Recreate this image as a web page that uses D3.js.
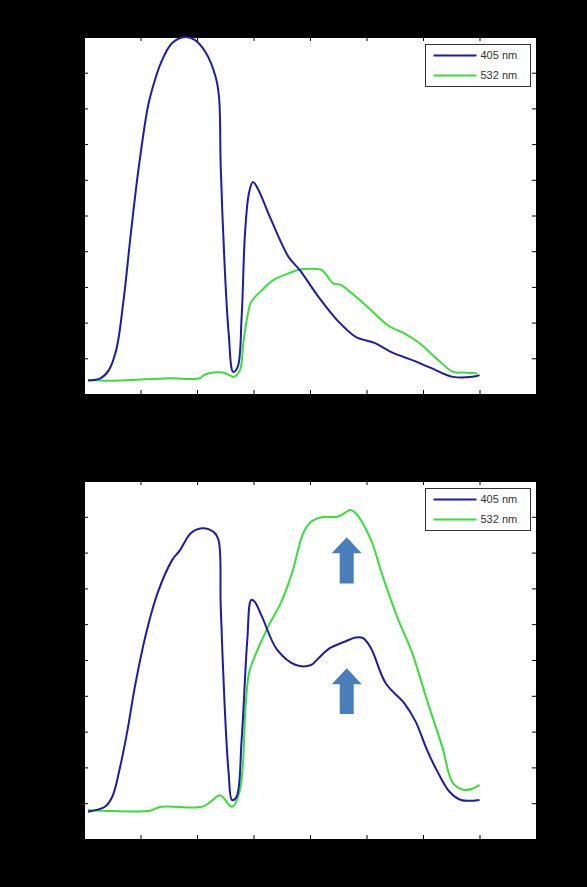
<!DOCTYPE html>
<html>
<head>
<meta charset="utf-8">
<script src="https://cdn.jsdelivr.net/npm/d3@7"></script>
<style>
	body { margin: 0; background: #000; }
	svg { display: block; }
	.tick line { stroke: #000; }
	.domain { stroke: #000; }
</style>
</head>
<body>
<div id="chart"></div>
<script>

// series values, [x, y]
var blueTop = [
	[0.07,0.38],[0.29,0.44],[0.44,0.67],[0.57,1.23],[0.70,2.63],[0.83,4.51],[0.97,6.36],
	[1.13,8.04],[1.23,8.66],[1.36,9.27],[1.56,9.83],[1.79,10.0],[1.96,9.92],[2.16,9.55],
	[2.33,8.88],[2.39,8.32],[2.42,6.36],[2.49,3.56],[2.56,1.71],[2.64,0.62],[2.72,0.76],
	[2.79,2.16],[2.85,4.51],[2.92,5.63],[2.99,5.94],[3.09,5.71],[3.29,4.96],[3.62,3.84],
	[3.82,3.47],[4.15,2.72],[4.48,2.07],[4.81,1.60],[5.14,1.43],[5.47,1.15],[5.81,0.95],
	[6.14,0.73],[6.53,0.48],[6.87,0.48],[7.0,0.53]
];

var greenTop = [
	[0.07,0.39],[0.44,0.37],[0.83,0.39],[1.5,0.44],[2.05,0.44],[2.12,0.53],[2.29,0.60],
	[2.46,0.60],[2.57,0.53],[2.65,0.48],[2.76,0.67],[2.82,1.43],[2.89,2.16],[2.96,2.58],
	[3.15,2.91],[3.35,3.19],[3.62,3.38],[3.82,3.49],[4.02,3.51],[4.21,3.47],[4.41,3.10],
	[4.55,3.05],[4.74,2.82],[5.01,2.45],[5.41,1.89],[5.67,1.70],[5.94,1.42],[6.27,0.95],
	[6.53,0.62],[6.73,0.60],[6.96,0.58]
];

var blueBottom = [
	[0.07,0.76],[0.37,0.90],[0.50,1.18],[0.64,2.02],[0.77,3.04],[0.90,4.25],[1.10,5.75],
	[1.30,6.86],[1.56,7.79],[1.70,8.07],[1.89,8.54],[2.09,8.68],[2.29,8.58],[2.38,8.35],
	[2.42,6.49],[2.49,3.70],[2.56,1.84],[2.62,1.09],[2.70,1.18],[2.79,2.77],[2.89,5.56],
	[2.96,6.68],[3.02,6.63],[3.15,6.21],[3.42,5.28],[3.75,4.86],[4.02,4.86],[4.15,5.05],
	[4.35,5.33],[4.61,5.51],[4.81,5.63],[4.94,5.61],[5.08,5.33],[5.34,4.35],[5.67,3.79],
	[5.87,3.28],[6.07,2.49],[6.27,1.84],[6.47,1.32],[6.67,1.09],[7.0,1.09]
];

var greenBottom = [
	[0.07,0.81],[0.34,0.79],[1.17,0.79],[1.36,0.90],[2.09,0.90],[2.25,1.05],[2.41,1.22],
	[2.62,0.90],[2.76,1.37],[2.86,3.70],[2.92,4.63],[3.02,5.09],[3.15,5.56],[3.29,6.03],
	[3.48,6.58],[3.68,7.42],[3.88,8.54],[4.02,8.86],[4.21,8.99],[4.48,9.00],[4.61,9.10],
	[4.71,9.19],[4.81,9.10],[5.08,8.35],[5.27,7.42],[5.54,6.21],[5.81,5.19],[6.07,3.88],
	[6.34,2.58],[6.53,1.56],[6.73,1.37],[6.90,1.42],[7.0,1.51]
];

// block arrows in the lower panel: [x, tail y, tip y]
var arrowsBottom = [
	[4.65, 7.14, 8.43],
	[4.65, 3.49, 4.77]
];

var seriesNames = ["405 nm", "532 nm"];
var seriesColors = ["#1c1ca6", "#3ade3a"];

var xTicks = [0, 1, 2, 3, 4, 5, 6, 7, 8];
var yTicks = [0, 1, 2, 3, 4, 5, 6, 7, 8, 9, 10];



var W = 587, H = 887;

var svg = d3.select("#chart").append("svg")
	.attr("width", W)
	.attr("height", H)
	.style("background", "#000");

svg.append("rect")
	.attr("width", W)
	.attr("height", H)
	.attr("fill", "#000");


function drawPanel(top, bottom, blue, green, arrows)
{
	var x = d3.scaleLinear().domain([0, 8]).range([84, 536]);
	var y = d3.scaleLinear().domain([0, 10]).range([bottom, top]);

	var g = svg.append("g");

	g.append("rect")
		.attr("x", x(0))
		.attr("y", y(10))
		.attr("width", x(8) - x(0))
		.attr("height", y(0) - y(10))
		.attr("fill", "#fff");

	// matlab style inward ticks, no labels
	g.append("g")
		.attr("transform", "translate(0," + y(0) + ")")
		.call(d3.axisBottom(x).tickValues(xTicks).tickSize(-4).tickFormat(""));
	g.append("g")
		.attr("transform", "translate(0," + y(10) + ")")
		.call(d3.axisTop(x).tickValues(xTicks).tickSize(-4).tickFormat(""));
	g.append("g")
		.attr("transform", "translate(" + x(0) + ",0)")
		.call(d3.axisLeft(y).tickValues(yTicks).tickSize(-4).tickFormat(""));
	g.append("g")
		.attr("transform", "translate(" + x(8) + ",0)")
		.call(d3.axisRight(y).tickValues(yTicks).tickSize(-4).tickFormat(""));

	var line = d3.line()
		.x(function(d) { return x(d[0]); })
		.y(function(d) { return y(d[1]); })
		.curve(d3.curveCatmullRom.alpha(0.5));

	g.append("path")
		.datum(green)
		.attr("d", line)
		.attr("fill", "none")
		.attr("stroke", seriesColors[1])
		.attr("stroke-width", 2);

	g.append("path")
		.datum(blue)
		.attr("d", line)
		.attr("fill", "none")
		.attr("stroke", seriesColors[0])
		.attr("stroke-width", 2);

	if (arrows)
	{
		g.selectAll(".arrow")
			.data(arrows)
			.enter().append("path")
			.attr("class", "arrow")
			.attr("fill", "#4a7ebb")
			.attr("d", function(d)
			{
				var cx = x(d[0]), y0 = y(d[1]), y1 = y(d[2]);
				var hb = y1 + 16;
				return "M" + (cx - 7) + "," + y0 +
					"L" + (cx - 7) + "," + hb +
					"L" + (cx - 15) + "," + hb +
					"L" + cx + "," + y1 +
					"L" + (cx + 15) + "," + hb +
					"L" + (cx + 7) + "," + hb +
					"L" + (cx + 7) + "," + y0 + "Z";
			});
	}

	// legend
	var lg = g.append("g")
		.attr("transform", "translate(425.5," + (top + 7.5) + ")");

	lg.append("rect")
		.attr("width", 105)
		.attr("height", 42)
		.attr("fill", "#fff")
		.attr("stroke", "#333")
		.attr("stroke-width", 1);

	var items = lg.selectAll(".item")
		.data(seriesNames)
		.enter().append("g")
		.attr("class", "item")
		.attr("transform", function(d, i) { return "translate(0," + (11 + i * 20) + ")"; });

	items.append("line")
		.attr("x1", 8)
		.attr("x2", 51)
		.attr("stroke", function(d, i) { return seriesColors[i]; })
		.attr("stroke-width", 2);

	items.append("text")
		.attr("x", 55)
		.attr("dy", "0.35em")
		.attr("font-family", "Liberation Sans, Arial, sans-serif")
		.attr("font-size", 11)
		.attr("fill", "#333")
		.text(function(d) { return d; });
}


drawPanel(37, 394, blueTop, greenTop, null);
drawPanel(481, 839, blueBottom, greenBottom, arrowsBottom);

</script>
</body>
</html>
